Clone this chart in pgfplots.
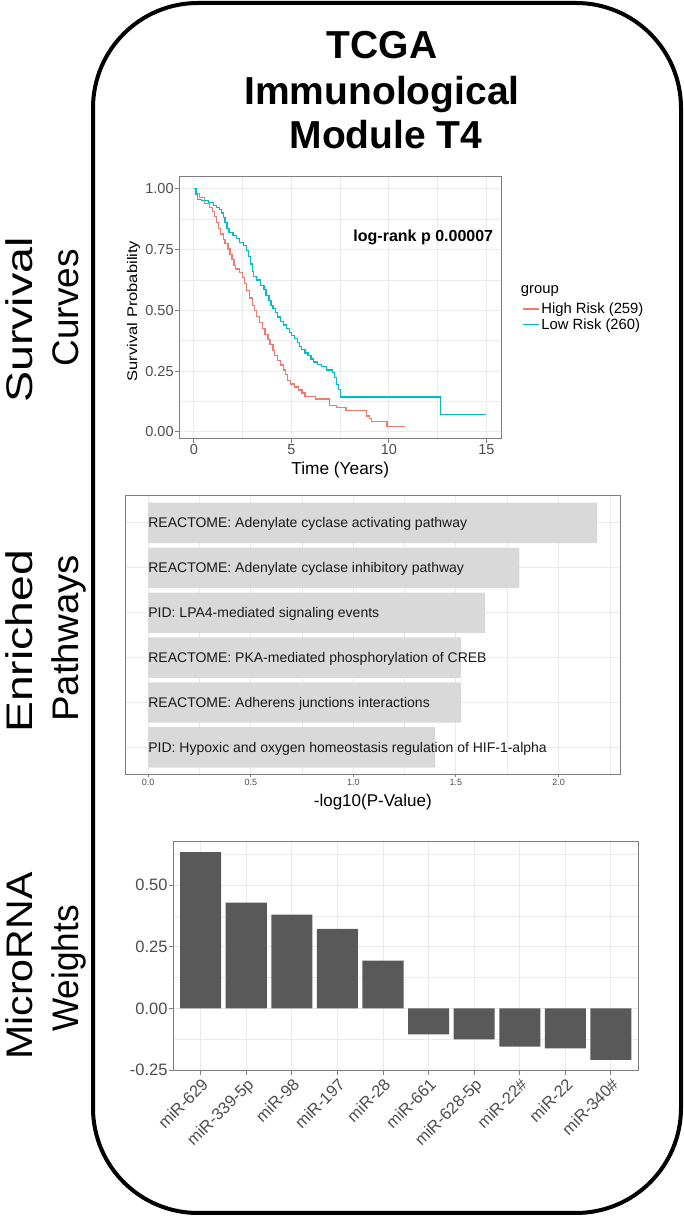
\documentclass[border=0pt]{standalone}
\usepackage{fontspec}
\setmainfont{Liberation Sans}
\usepackage{pgfplots}
\pgfplotsset{compat=1.18}
\definecolor{hr}{HTML}{F8766D}
\definecolor{lr}{HTML}{00BFC4}
\definecolor{gridc}{HTML}{EBEBEB}
\definecolor{borderc}{HTML}{7F7F7F}
\definecolor{tickc}{HTML}{4D4D4D}
\definecolor{barl}{HTML}{D9D9D9}
\definecolor{bard}{HTML}{595959}
\newcommand{\fs}[1]{\fontsize{#1}{#1}\selectfont}
\pgfplotsset{
  ggbase/.style={
    scale only axis, anchor=south west,
    /pgf/number format/assume math mode=true,
    grid=both,
    major grid style={draw=gridc, line width=1pt},
    minor grid style={draw=gridc, line width=0.5pt},
    axis line style={draw=borderc, line width=1pt},
    tick align=outside, tick pos=left,
    major tick length=4pt, minor tick length=0pt,
    tick style={draw=borderc, line width=1pt},
    ticklabel style={text=tickc, inner sep=1.5pt},
    axis on top=false,
  }
}
\begin{document}
\begin{tikzpicture}[x=1pt,y=1pt]
\useasboundingbox (0,0) rectangle (684,1216);
\draw[line width=4pt, rounded corners=105pt] (93,1213) rectangle (681,3);

% title
\node[anchor=base, font=\bfseries\fs{39}, inner sep=0pt] at (382,1157.7) {TCGA};
\node[anchor=base, font=\bfseries\fs{39}, inner sep=0pt] at (382,1111) {Immunological};
\node[anchor=base, font=\bfseries\fs{39}, inner sep=0pt] at (386,1067.7) {Module T4};

% left labels
\node[rotate=90, xscale=1.26, anchor=base, font=\fs{37}, inner sep=0pt] at (32,896) {Survival};
\node[rotate=90, anchor=base, font=\fs{37}, inner sep=0pt] at (78,908) {Curves};
\node[rotate=90, xscale=1.25, anchor=base, font=\fs{37}, inner sep=0pt] at (32,574.5) {Enriched};
\node[rotate=90, xscale=1.04, anchor=base, font=\fs{37}, inner sep=0pt] at (78,577.5) {Pathways};
\node[rotate=90, xscale=1.11, anchor=base, font=\fs{37}, inner sep=0pt] at (32,250) {MicroRNA};
\node[rotate=90, xscale=0.95, anchor=base, font=\fs{37}, inner sep=0pt] at (78,247.5) {Weights};

% ---------------- survival curves
\begin{axis}[ggbase,
  at={(179.3pt,777pt)}, width=321.7pt, height=262.3pt,
  xmin=-0.75, xmax=15.75, ymin=-0.029, ymax=1.049,
  xtick={0,5,10,15}, xticklabels={0,5,10,15},
  ytick={0,0.25,0.5,0.75,1}, yticklabels={0.00,0.25,0.50,0.75,1.00},
  minor xtick={2.5,7.5,12.5}, minor ytick={0.125,0.375,0.625,0.875},
  ticklabel style={font=\fs{14.5}},
  legend style={at={(axis description cs:1.0644,0.524)}, anchor=north west,
    draw=none, fill=none, inner sep=0pt, font=\fs{14.8}, row sep=0pt,
    nodes={inner sep=1.5pt}},
  legend cell align=left,
  legend image code/.code={\draw[#1, line width=1.4pt] (0pt,0.3pt) -- (16.6pt,0.3pt);},
]
\addplot[const plot, hr, line width=1.3pt] coordinates {
(0,1.0) (0.1,0.98) (0.3,0.963) (0.55,0.94) (0.8,0.922) (0.95,0.905) (1.05,0.885)
(1.15,0.861) (1.25,0.835) (1.35,0.813) (1.5,0.79) (1.6,0.775) (1.75,0.752)
(1.85,0.73) (1.95,0.71) (2.05,0.685) (2.15,0.67) (2.35,0.656) (2.5,0.635)
(2.6,0.61) (2.7,0.58) (2.85,0.55) (3.0,0.52) (3.1,0.50) (3.2,0.475) (3.35,0.45)
(3.5,0.425) (3.65,0.40) (3.8,0.38) (3.9,0.36) (4.05,0.335) (4.15,0.315)
(4.3,0.295) (4.45,0.275) (4.6,0.255) (4.7,0.235) (4.8,0.21) (4.95,0.197)
(5.15,0.185) (5.35,0.172) (5.55,0.16) (5.7,0.145) (6.25,0.135) (6.95,0.11)
(7.3,0.10) (7.8,0.088) (8.85,0.065) (9.0,0.055) (9.1,0.044) (9.9,0.022) (10.81,0.022)
};
\addlegendentry{High Risk (259)}
\addplot[const plot, lr, line width=1.3pt] coordinates {
(0,1.0) (0.1,0.975) (0.2,0.956) (0.4,0.950) (0.75,0.943) (1.0,0.930) (1.15,0.922)
(1.3,0.915) (1.4,0.900) (1.5,0.881) (1.6,0.860) (1.7,0.835) (1.8,0.820)
(2.0,0.806) (2.2,0.795) (2.35,0.779) (2.55,0.765) (2.7,0.745) (2.8,0.720)
(2.9,0.690) (3.0,0.660) (3.05,0.640) (3.2,0.625) (3.4,0.602) (3.6,0.585)
(3.7,0.560) (3.85,0.540) (3.95,0.520) (4.05,0.506) (4.2,0.490) (4.3,0.472)
(4.45,0.455) (4.6,0.440) (4.75,0.425) (4.9,0.410) (5.0,0.397) (5.15,0.383)
(5.3,0.368) (5.4,0.350) (5.5,0.340) (5.7,0.325) (5.85,0.315) (6.0,0.300)
(6.15,0.288) (6.35,0.278) (6.55,0.268) (6.8,0.255) (7.1,0.245) (7.2,0.225)
(7.3,0.195) (7.4,0.175) (7.5,0.143) (12.65,0.071) (15.0,0.071)
};
\addlegendentry{Low Risk (260)}
\end{axis}
\node[anchor=base west, font=\fs{14.8}, inner sep=0pt] at (520.7,922.7) {group};
\node[anchor=base east, font=\bfseries\fs{16}, inner sep=0pt] at (493.3,974.3) {log-rank p 0.00007};
\node[anchor=base, font=\fs{17.3}, inner sep=0pt] at (340.2,741) {Time (Years)};
\node[rotate=90, xscale=1.18, anchor=base, font=\fs{14}, inner sep=0pt] at (137,905) {Survival Probability};

% ---------------- enriched pathways
\begin{axis}[ggbase,
  at={(125.7pt,441.7pt)}, width=494.3pt, height=278.3pt,
  xmin=-0.1095, xmax=2.2995, ymin=0.4, ymax=6.6,
  xbar, bar width=0.9,
  xtick={0,0.5,1,1.5,2}, xticklabels={0.0,0.5,1.0,1.5,2.0},
  minor xtick={0.25,0.75,1.25,1.75,2.25},
  ytick={1,2,3,4,5,6}, yticklabels={},
  ytick style={draw=none},
  major tick length=3pt,
  ticklabel style={font=\fs{9}},
]
\addplot[fill=barl, draw=none] coordinates {
(2.187,6) (1.809,5) (1.642,4) (1.524,3) (1.524,2) (1.398,1)
};
\node[anchor=base west, inner sep=0pt, font=\fs{14}, text=black!90, yshift=-5pt] at (axis cs:0,6) {REACTOME: Adenylate cyclase activating pathway};
\node[anchor=base west, inner sep=0pt, font=\fs{14}, text=black!90, yshift=-5pt] at (axis cs:0,5) {REACTOME: Adenylate cyclase inhibitory pathway};
\node[anchor=base west, inner sep=0pt, font=\fs{14}, text=black!90, yshift=-5pt] at (axis cs:0,4) {PID: LPA4-mediated signaling events};
\node[anchor=base west, inner sep=0pt, font=\fs{14}, text=black!90, yshift=-5pt] at (axis cs:0,3) {REACTOME: PKA-mediated phosphorylation of CREB};
\node[anchor=base west, inner sep=0pt, font=\fs{14}, text=black!90, yshift=-5pt] at (axis cs:0,2) {REACTOME: Adherens junctions interactions};
\node[anchor=base west, inner sep=0pt, font=\fs{14}, text=black!90, yshift=-5pt] at (axis cs:0,1) {PID: Hypoxic and oxygen homeostasis regulation of HIF-1-alpha};
\end{axis}
\node[anchor=base, font=\fs{17}, inner sep=0pt] at (372.8,409.3) {-log10(P-Value)};

% ---------------- microRNA weights
\begin{axis}[ggbase,
  at={(173.3pt,145.3pt)}, width=465pt, height=229pt,
  xmin=0.4, xmax=10.6, ymin=-0.2525, ymax=0.6765,
  ybar, bar width=0.9,
  xtick={1,...,10},
  xticklabels={miR-629,miR-339-5p,miR-98,miR-197,miR-28,miR-661,miR-628-5p,miR-22\#,miR-22,miR-340\#},
  xticklabel style={rotate=45, anchor=north east, font=\fs{16.5}},
  ytick={-0.25,0,0.25,0.5}, yticklabels={-0.25,0.00,0.25,0.50},
  yticklabel style={font=\fs{16.5}},
  minor ytick={-0.125,0.125,0.375,0.625},
]
\addplot[fill=bard, draw=none] coordinates {
(1,0.634) (2,0.429) (3,0.381) (4,0.323) (5,0.194)
(6,-0.105) (7,-0.125) (8,-0.155) (9,-0.162) (10,-0.209)
};
\end{axis}
\end{tikzpicture}
\end{document}
